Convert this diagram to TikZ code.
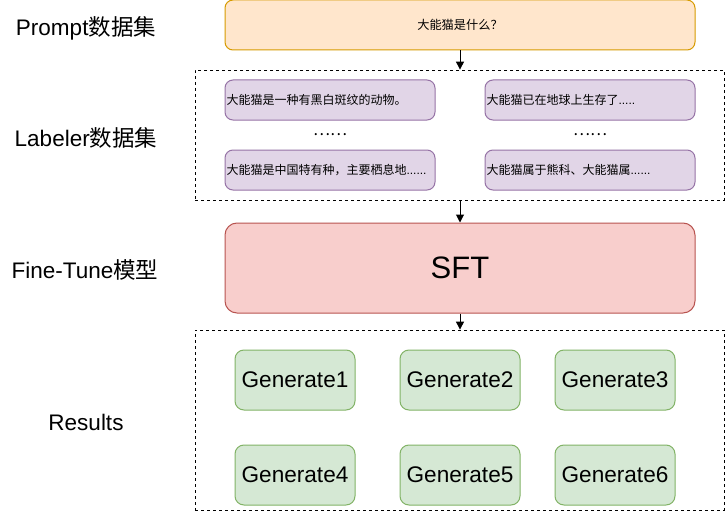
\documentclass[tikz,border=0pt]{standalone}
\usepackage{fontspec}
\setmainfont{Liberation Sans}
\newfontfamily\cjk{Noto Sans CJK SC}
\usetikzlibrary{arrows.meta}
\definecolor{orfill}{HTML}{FFE6CC}\definecolor{ordraw}{HTML}{D79B00}
\definecolor{pufill}{HTML}{E1D5E7}\definecolor{pudraw}{HTML}{9673A6}
\definecolor{refill}{HTML}{F8CECC}\definecolor{redraw}{HTML}{B85450}
\definecolor{grfill}{HTML}{D5E8D4}\definecolor{grdraw}{HTML}{82B366}
\tikzset{
  sidelabel/.style={font=\fontsize{22.5}{26}\selectfont, inner sep=0pt},
  dashbox/.style={draw=black, dash pattern=on 3pt off 3pt, line width=0.8pt, minimum width=529pt, inner sep=0pt},
  promptbox/.style={draw=ordraw, fill=orfill, rounded corners=8pt, line width=1pt, minimum width=470pt, minimum height=50pt, font=\cjk\fontsize{12.2}{14}\selectfont},
  labbox/.style={draw=pudraw, fill=pufill, rounded corners=8pt, line width=1pt, minimum width=210pt, minimum height=40pt, text width=207pt, align=left, inner sep=1.5pt, font=\cjk\fontsize{12}{14}\selectfont},
  sftbox/.style={draw=redraw, fill=refill, rounded corners=12pt, line width=1pt, minimum width=470pt, minimum height=90pt, font=\fontsize{31}{36}\selectfont},
  genbox/.style={draw=grdraw, fill=grfill, rounded corners=9pt, line width=1pt, minimum width=120pt, minimum height=60pt, font=\fontsize{22.6}{26}\selectfont, inner sep=0pt},
  dotstext/.style={font=\fontsize{16}{18}\selectfont, inner sep=0pt},
  flow/.style={-{Triangle[width=8pt,length=8pt]}, line width=1pt, draw=black},
}
\begin{document}
\begin{tikzpicture}[x=1pt,y=-1pt]
\useasboundingbox[fill=white] (0,0) rectangle (726,511);
% side labels
\node[sidelabel] (lp) at (86,28) {Prompt{\cjk 数据集}};
\node[sidelabel] (ll) at (86,138) {Labeler{\cjk 数据集}};
\node[sidelabel] (lf) at (85,270) {Fine-Tune{\cjk 模型}};
\node[sidelabel] (lr) at (86,422) {Results};
% prompt
\node[promptbox] (prompt) at (460,25) {大能猫是什么？};
% labeler group
\node[dashbox, minimum height=130pt] (lab) at (459.5,135) {};
\node[labbox] (l1) at (330,100) {大能猫是一种有黑白斑纹的动物。};
\node[labbox] (l2) at (330,170) {大能猫是中国特有种，主要栖息地{\rmfamily......}};
\node[labbox] (r1) at (590,100) {大能猫已在地球上生存了{\rmfamily .....}};
\node[labbox] (r2) at (590,170) {大能猫属于熊科、大能猫属{\rmfamily ......}};
\node[dotstext] (d1) at (330,135) {\cjk ……};
\node[dotstext] (d2) at (590,135) {\cjk ……};
% SFT
\node[sftbox] (sft) at (460,268) {SFT};
% results group
\node[dashbox, minimum height=180pt] (res) at (459.5,420) {};
\node[genbox] (g1) at (295,380) {Generate1};
\node[genbox] (g2) at (460,380) {Generate2};
\node[genbox] (g3) at (615,380) {Generate3};
\node[genbox] (g4) at (295,475) {Generate4};
\node[genbox] (g5) at (460,475) {Generate5};
\node[genbox] (g6) at (615,475) {Generate6};
% arrows
\draw[flow] (prompt.south) -- (prompt.south |- lab.north);
\draw[flow] (prompt.south |- lab.south) -- (sft.north);
\draw[flow] (sft.south) -- (sft.south |- res.north);
\end{tikzpicture}
\end{document}
